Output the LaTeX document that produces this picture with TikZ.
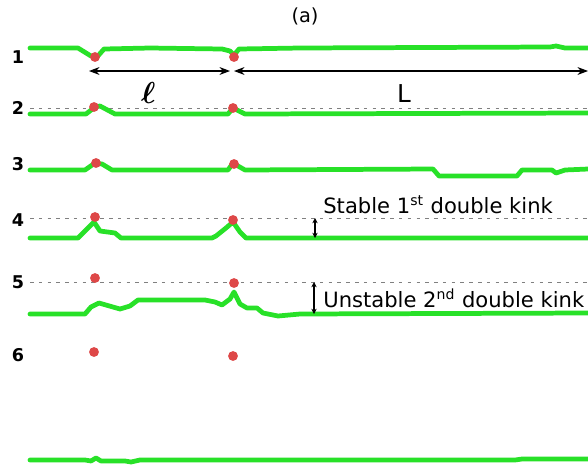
\documentclass[tikz,border=0pt]{standalone}
\usepackage{amsmath}
\usepackage{amssymb}
\usepackage{fontspec}
\setmainfont{DejaVu Sans}
\usepackage{tikz}
\usetikzlibrary{arrows.meta}

\definecolor{chain}{RGB}{40,225,40}
\definecolor{kinkred}{RGB}{222,72,72}

\begin{document}
\begin{tikzpicture}[x=0.02cm, y=-0.02cm,
  chain/.style={draw=chain, line width=2.7pt, line join=round, line cap=round},
  kink/.style={circle, fill=kinkred, minimum size=5.6pt, inner sep=0pt},
  level/.style={draw=gray, dashed, line width=0.4pt, dash pattern=on 2pt off 3pt},
  rowlabel/.style={font=\bfseries\fontsize{10}{12}\selectfont},
  dim/.style={{Stealth[length=6pt,width=4.5pt]}-{Stealth[length=6pt,width=4.5pt]}, line width=0.6pt},
  gap/.style={{Stealth[length=3pt,width=3pt]}-{Stealth[length=3pt,width=3pt]}, line width=0.6pt},
  note/.style={anchor=base west, font=\fontsize{12}{14}\selectfont, inner sep=0pt}]
\useasboundingbox (0,0) rectangle (588,467);
\node[font=\fontsize{11}{13}\selectfont] (title) at (305,16) {(a)};
% Row labels
\node[rowlabel] (n1) at (18,57) {1};
\node[rowlabel] (n2) at (18,108) {2};
\node[rowlabel] (n3) at (18,164) {3};
\node[rowlabel] (n4) at (18,220) {4};
\node[rowlabel] (n5) at (18,282) {5};
\node[rowlabel] (n6) at (18,355) {6};
% Dashed reference levels
\draw[level] (30,108) -- (588,108);
\draw[level] (30,218) -- (588,218);
\draw[level] (30,282) -- (588,282);
% Dislocation lines
\draw[chain] (30,48) -- (78,48) -- (91,56) -- (97,57) -- (104,49) -- (150,48) -- (222,49) -- (230,51) -- (234,55) -- (239,49) -- (300,48) -- (550,47) -- (556,46) -- (565,48) -- (588,48);
\draw[chain] (30,114) -- (86,114) -- (95,107) -- (100,106) -- (115,114) -- (228,114) -- (233,108) -- (245,114) -- (588,113);
\draw[chain] (30,170) -- (85,170) -- (95,163) -- (102,164) -- (112,170) -- (228,170) -- (233,163) -- (238,166) -- (245,170) -- (433,169) -- (439,176) -- (517,176) -- (522,170) -- (552,170) -- (556,173) -- (565,170) -- (588,169);
\draw[chain] (30,238) -- (78,238) -- (94,222) -- (100,231) -- (115,233) -- (121,238) -- (212,238) -- (216,236) -- (226,228) -- (233,222) -- (240,232) -- (246,238) -- (588,238);
\draw[chain] (30,314) -- (85,314) -- (91,307) -- (99,303) -- (120,309) -- (130,306) -- (138,300) -- (205,300) -- (215,302) -- (222,305) -- (230,299) -- (234,292) -- (240,304) -- (247,308) -- (257,308) -- (263,313) -- (278,316) -- (300,314) -- (588,313);
\draw[chain] (30,460) -- (85,460) -- (91,461) -- (96,458) -- (101,461) -- (125,461) -- (131,462) -- (140,460) -- (515,460) -- (522,459) -- (588,459);
% Kinks
\node[kink] (k1a) at (95,57) {};
\node[kink] (k1b) at (234,57) {};
\node[kink] (k2a) at (94,107) {};
\node[kink] (k2b) at (233,108) {};
\node[kink] (k3a) at (96,163) {};
\node[kink] (k3b) at (234,164) {};
\node[kink] (k4a) at (95,217) {};
\node[kink] (k4b) at (233,220) {};
\node[kink] (k5a) at (95,278) {};
\node[kink] (k5b) at (234,283) {};
\node[kink] (k6a) at (94,352) {};
\node[kink] (k6b) at (233,356) {};
% Spacings
\coordinate (l1) at (89,71);
\coordinate (l2) at (230,71);
\coordinate (L1) at (234,71);
\coordinate (L2) at (588,71);
\draw[dim] (l1) -- node[pos=0.42, below=3pt, font=\fontsize{17}{18}\selectfont] {$\boldsymbol{\ell}$} (l2);
\draw[dim] (L1) -- node[pos=0.48, below=4pt, font=\fontsize{14}{15}\selectfont] {L} (L2);
% Double kink heights
\coordinate (s1) at (315,218);
\coordinate (s2) at (315,238);
\draw[gap] (s1) -- (s2);
\node[note] (stable) at (323,213) {Stable 1\textsuperscript{st} double kink};
\coordinate (u1) at (314,282);
\coordinate (u2) at (314,314);
\draw[gap] (u1) -- (u2);
\node[note] (unstable) at (323,307) {Unstable 2\textsuperscript{nd} double kink};
\end{tikzpicture}
\end{document}
